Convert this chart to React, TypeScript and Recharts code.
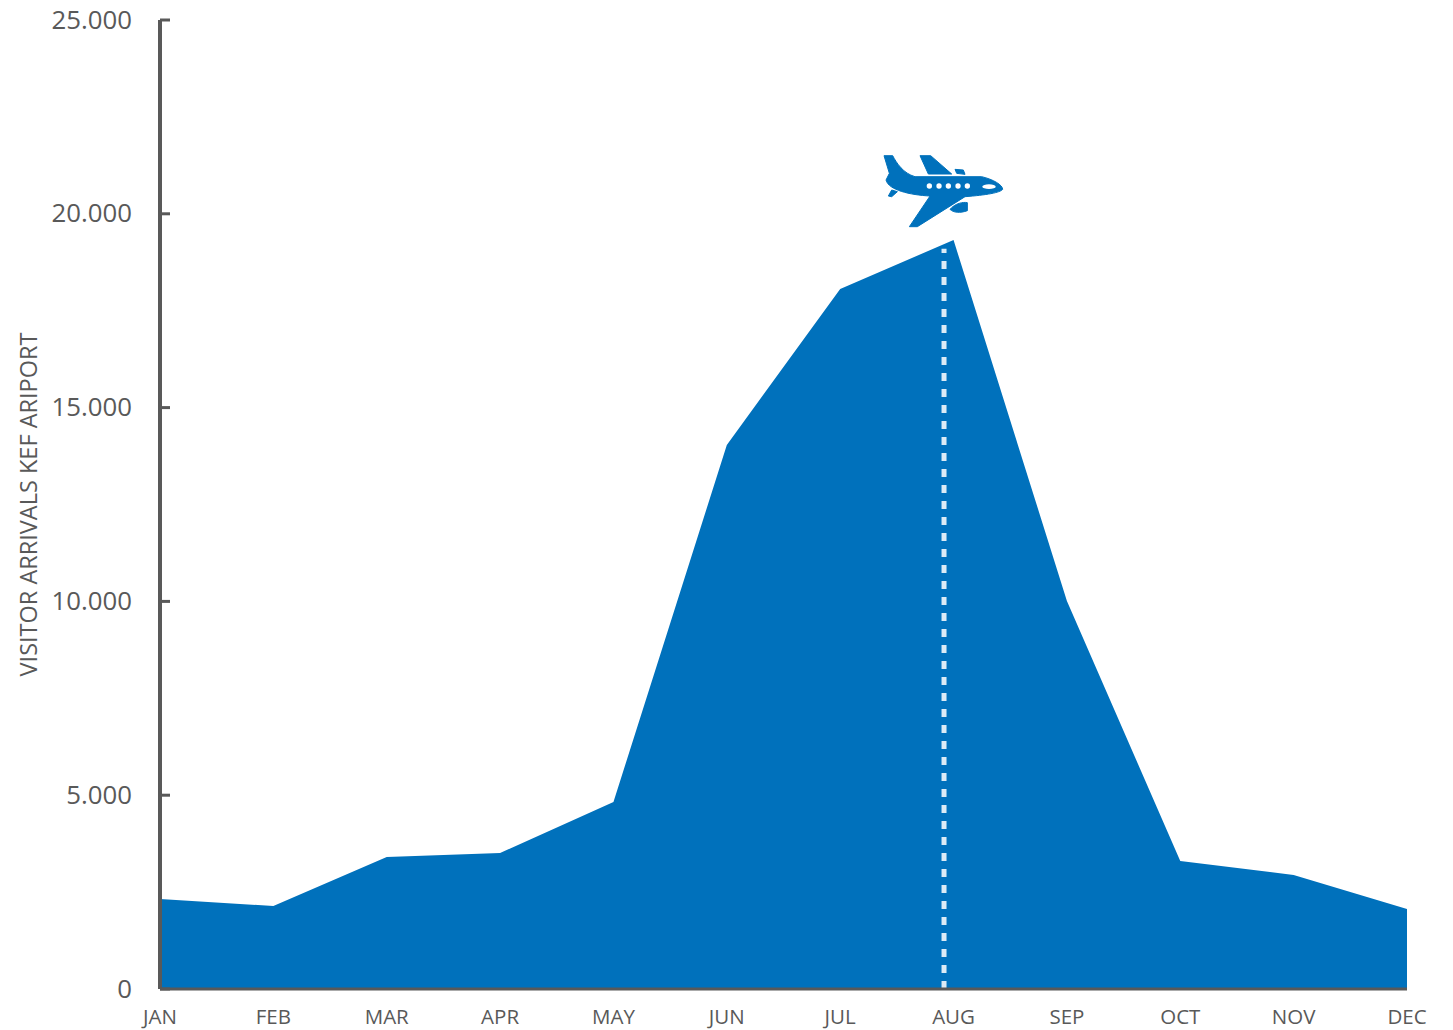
import { AreaChart, Area, XAxis, YAxis, ReferenceLine, ReferenceDot } from "recharts";

const MONTHS = ["JAN", "FEB", "MAR", "APR", "MAY", "JUN", "JUL", "AUG", "SEP", "OCT", "NOV", "DEC"];
const ARRIVALS = [2322, 2141, 3405, 3509, 4825, 14035, 18060, 19324, 10010, 3302, 2941, 2064];
const Y_TICKS = [0, 5000, 10000, 15000, 20000, 25000];
const MONTH_TICKS = MONTHS.map((_, i) => i);

// Flight path marker: month position and the height it climbs to
const MARKER_MONTH = 6.916;
const MARKER_TOP = 19100;
const PLANE_VALUE = 20691;

const BLUE = "#0071BC";
const GREY = "#595959";
const FONT = "'Open Sans', sans-serif";

const chartData = MONTHS.map((month, i) => ({ index: i, month, arrivals: ARRIVALS[i] }));

const formatThousands = (value: number) => String(value).replace(/\B(?=(\d{3})+$)/g, ".");

function Plane({ cx, cy }: { cx?: number; cy?: number }) {
  return (
    <g transform={`translate(${cx},${cy}) scale(0.3333) translate(-252,-141)`}>
      <g fill={BLUE} stroke={BLUE} strokeWidth={3}>
        <path d="M72,47 L98,47 C110,70 130,100 165,110 L365,110 C400,118 428,135 428,148 C420,158 380,165 315,170 L172,260 L148,260 L210,168 C150,165 85,150 78,120 L88,100 Z" />
        <path d="M180,47 L212,47 L275,102 L205,102 Z" />
        <path d="M285,88 L310,90 L315,103 L290,100 Z" />
        <path d="M270,208 C285,190 310,185 322,188 L322,212 C300,220 280,218 270,208 Z" />
        <path d="M95,150 L112,155 L95,170 L85,168 Z" />
      </g>
      {[208, 237, 265, 294, 322].map((x) => (
        <circle key={x} cx={x} cy={138} r={8} fill="#fff" />
      ))}
      <ellipse cx={387} cy={140} rx={20} ry={7} fill="#fff" />
    </g>
  );
}

export default function App() {
  return (
    <div style={{ position: "absolute", left: 0, top: 0, width: 1453, height: 1030, background: "#fff" }}>
      <AreaChart
        width={1453}
        height={1030}
        data={chartData}
        margin={{ top: 20, right: 46, bottom: 0, left: 0 }}
      >
        <Area
          dataKey="arrivals"
          type="linear"
          fill={BLUE}
          fillOpacity={1}
          stroke="none"
          isAnimationActive={false}
        />
        <XAxis
          dataKey="index"
          type="number"
          domain={[0, 11]}
          ticks={MONTH_TICKS}
          interval={0}
          height={41}
          tickFormatter={(i: number) => MONTHS[i]}
          tickLine={false}
          tickMargin={14}
          axisLine={{ stroke: GREY, strokeWidth: 3 }}
          tick={{ fill: GREY, fontSize: 20.5, fontFamily: FONT }}
        />
        <YAxis
          width={160}
          domain={[0, 25000]}
          ticks={Y_TICKS}
          interval={0}
          tickFormatter={formatThousands}
          tickSize={-10}
          tickMargin={38}
          tickLine={{ stroke: GREY, strokeWidth: 3 }}
          axisLine={{ stroke: GREY, strokeWidth: 4 }}
          tick={{ fill: GREY, fontSize: 25.8, fontFamily: FONT, dy: -0.5 }}
          label={{
            value: "VISITOR ARRIVALS KEF ARIPORT",
            angle: -90,
            position: "insideLeft",
            dx: 24,
            fill: GREY,
            fontSize: 23.5,
            fontFamily: FONT,
            style: { textAnchor: "middle" },
          }}
        />
        <ReferenceLine
          segment={[
            { x: MARKER_MONTH, y: 0 },
            { x: MARKER_MONTH, y: MARKER_TOP },
          ]}
          stroke="#DCEBF6"
          strokeWidth={5}
          strokeDasharray="8 8"
        />
        <ReferenceDot x={MARKER_MONTH} y={PLANE_VALUE} shape={<Plane />} />
      </AreaChart>
    </div>
  );
}
